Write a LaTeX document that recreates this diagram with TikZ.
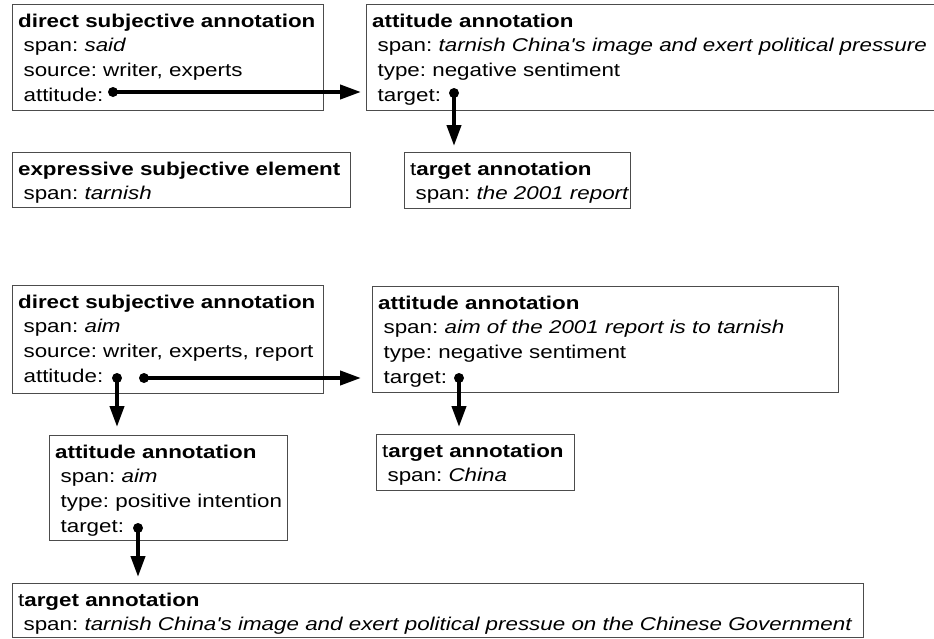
\documentclass[tikz,border=0pt]{standalone}
\usepackage{fontspec}
\setmainfont{Liberation Sans}[FakeStretch=1.21, Ligatures=TeXOff]
\usetikzlibrary{arrows.meta}
\frenchspacing

% fixed-size annotation frame: width, height (in pt), top-aligned content
\newcommand\framed[3]{\parbox[c][#2pt][t]{#1pt}{\leftskip=5.5pt\parindent=0pt\rule{0pt}{22.5pt}#3}}
\newcommand\ind{\hspace*{5.5pt}}

\tikzset{
  annot/.style={draw=black!70, line width=1.2pt, inner sep=0pt, anchor=north west,
    font=\fontsize{18.5}{24.7}\selectfont},
  link/.style={line width=4pt, -{Triangle[length=21pt,width=14pt]}},
  knob/.style={fill=black}
}

\begin{document}
\begin{tikzpicture}[x=1pt, y=-1pt]
\useasboundingbox (0,0) rectangle (934,638);

% upper example
\node[annot] (A) at (12,4) {\framed{311}{106}{\textbf{direct subjective annotation}\\
  \ind span: \textit{said}\\ \ind source: writer, experts\\ \ind attitude:}};
\node[annot] (B) at (366,4) {\framed{580}{106}{\textbf{attitude annotation}\\
  \ind span: \textit{tarnish China's image and exert political pressure}\\
  \ind type: negative sentiment\\ \ind target:}};
\node[annot] (C) at (12,152) {\framed{338}{55}{\textbf{expressive subjective element}\\
  \ind span: \textit{tarnish}}};
\node[annot] (D) at (404,152) {\framed{226}{56}{t\textbf{arget annotation}\\
  \ind span: \textit{the 2001 report}}};

% lower example
\node[annot] (E) at (12,285) {\framed{311}{108}{\textbf{direct subjective annotation}\\
  \ind span: \textit{aim}\\ \ind source: writer, experts, report\\ \ind attitude:}};
\node[annot] (F) at (372,286) {\framed{466}{106}{\textbf{attitude annotation}\\
  \ind span: \textit{aim of the 2001 report is to tarnish}\\
  \ind type: negative sentiment\\ \ind target:}};
\node[annot] (G) at (49,435) {\framed{238}{105}{\textbf{attitude annotation}\\
  \ind span: \textit{aim}\\ \ind type: positive intention\\ \ind target:}};
\node[annot] (H) at (376,434) {\framed{198}{56}{t\textbf{arget annotation}\\
  \ind span: \textit{China}}};
\node[annot] (I) at (12,583) {\framed{851}{54}{t\textbf{arget annotation}\\
  \ind span: \textit{tarnish China's image and exert political pressue on the Chinese Government}}};

% attachment points of the links
\coordinate (dA) at (113,92);
\coordinate (dB) at (454,93);
\coordinate (dE1) at (117,378);
\coordinate (dE2) at (144,378);
\coordinate (dF) at (459,378);
\coordinate (dG) at (138,528);

\draw[link, shorten >=5pt] (dA) -- (dA -| B.west);
\draw[link, shorten >=6pt] (dB) -- (dB |- D.north);
\draw[link, shorten >=11pt] (dE2) -- (dE2 -| F.west);
\draw[link, shorten >=8pt] (dE1) -- (dE1 |- G.north);
\draw[link, shorten >=7pt] (dF) -- (dF |- H.north);
\draw[link, shorten >=6pt] (dG) -- (dG |- I.north);

\foreach \p in {dA,dB,dE1,dE2,dF,dG}
  \fill[knob] (\p) circle[radius=5pt];
\end{tikzpicture}
\end{document}
